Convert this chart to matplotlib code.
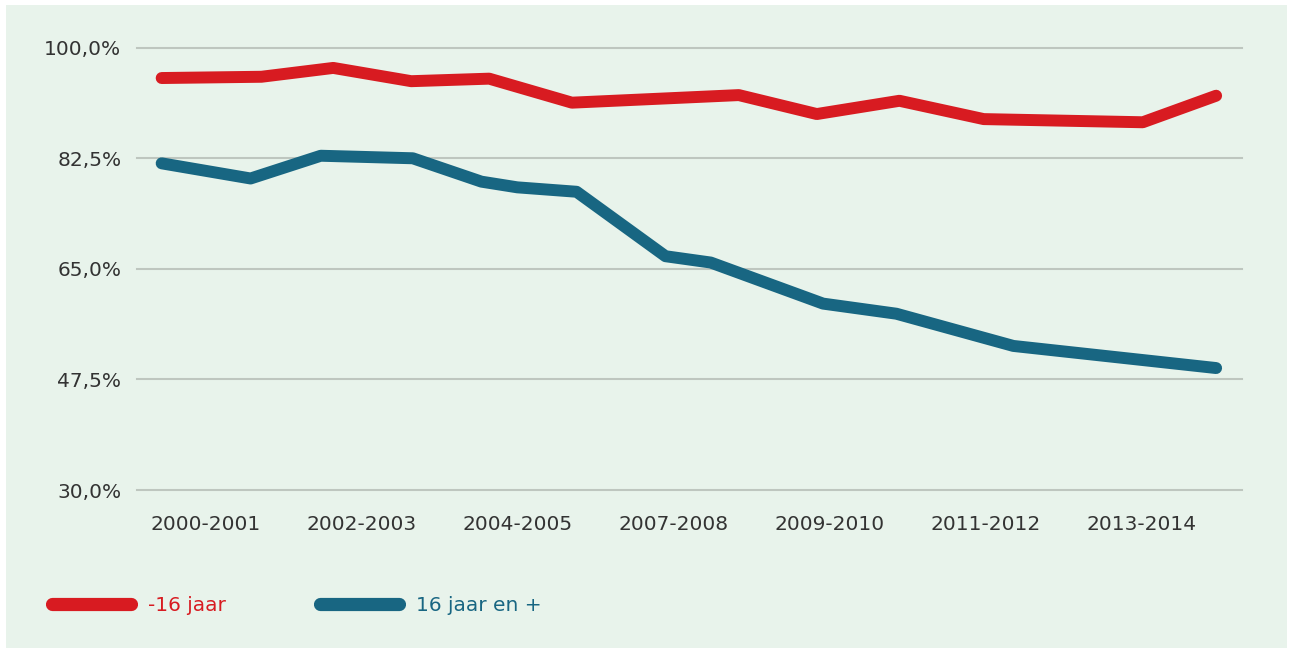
import matplotlib
matplotlib.use("Agg")
import matplotlib.pyplot as plt
from matplotlib.lines import Line2D
from matplotlib.patches import Rectangle

# x positions are in "tick units": 0 = 2000-2001 label, 1 = 2002-2003 label, ...
tick_labels = ["2000-2001", "2002-2003", "2004-2005", "2007-2008",
               "2009-2010", "2011-2012", "2013-2014"]
y_ticks = [30.0, 47.5, 65.0, 82.5, 100.0]

under16_x = [-0.28, 0.36, 0.82, 1.32, 1.82, 2.35, 3.42, 3.92, 4.45, 4.99, 6.01, 6.48]
under16_pct = [95.2, 95.4, 96.8, 94.7, 95.1, 91.3, 92.5, 89.5, 91.6, 88.7, 88.2, 92.4]

over16_x = [-0.28, 0.29, 0.74, 1.33, 1.77, 2.00, 2.38, 2.95, 3.24, 3.96, 4.43, 5.18, 6.48]
over16_pct = [81.7, 79.3, 82.9, 82.5, 78.8, 77.9, 77.2, 67.0, 66.0, 59.5, 57.9, 52.8, 49.3]

RED = "#D81B21"
BLUE = "#186682"
BG = "#E8F3EB"
GRID = "#BEC6BF"
TEXT = "#333333"


def fmt_pct(v):
    return f"{v:.1f}".replace(".", ",") + "%"


def main():
    plt.rcParams["font.family"] = ["DejaVu Sans"]
    fig = plt.figure(figsize=(12.9, 6.53), dpi=100, facecolor="white")
    fig.add_artist(Rectangle((6 / 1290, 5 / 653), 1281 / 1290, 643 / 653,
                             transform=fig.transFigure, facecolor=BG,
                             edgecolor="none", zorder=-10))

    ax = fig.add_axes([136.7 / 1290, 1 - 490 / 653, (1241.7 - 136.7) / 1290, (490 - 47.7) / 653])
    ax.set_facecolor(BG)
    ax.patch.set_alpha(0)

    lw = 8.6
    ax.plot(under16_x, under16_pct, color=RED, lw=lw, solid_capstyle="round",
            solid_joinstyle="round", zorder=3, clip_on=False)
    ax.plot(over16_x, over16_pct, color=BLUE, lw=lw, solid_capstyle="round",
            solid_joinstyle="round", zorder=3, clip_on=False)

    ax.set_xlim(-0.44, 6.644)
    ax.set_ylim(30, 100)

    ax.set_yticks(y_ticks)
    ax.set_yticklabels([fmt_pct(v) for v in y_ticks])
    ax.set_xticks(range(len(tick_labels)))
    ax.set_xticklabels(tick_labels)

    ax.yaxis.grid(True, color=GRID, lw=1.5)
    ax.xaxis.grid(False)
    ax.set_axisbelow(True)
    # keep the top and bottom gridlines at full width
    for gl in ax.get_ygridlines():
        gl.set_clip_on(False)
    for s in ax.spines.values():
        s.set_visible(False)
    ax.tick_params(axis="both", length=0, labelsize=14.5, labelcolor=TEXT)
    ax.tick_params(axis="y", pad=11)
    ax.tick_params(axis="x", pad=18)

    handles = [
        Line2D([], [], color=RED, lw=9.5, solid_capstyle="round"),
        Line2D([], [], color=BLUE, lw=9.5, solid_capstyle="round"),
    ]
    leg = fig.legend(handles, ["-16 jaar", "16 jaar en +"], loc="center left",
                     bbox_to_anchor=(52 / 1290, 1 - 605.5 / 653), ncol=2,
                     frameon=False, fontsize=14.5, handlelength=3.9,
                     handletextpad=0.85, columnspacing=4.7,
                     borderaxespad=0, borderpad=0)
    for txt, c in zip(leg.get_texts(), [RED, BLUE]):
        txt.set_color(c)

    fig.savefig("out.png", dpi=100, facecolor="white")


if __name__ == "__main__":
    main()
